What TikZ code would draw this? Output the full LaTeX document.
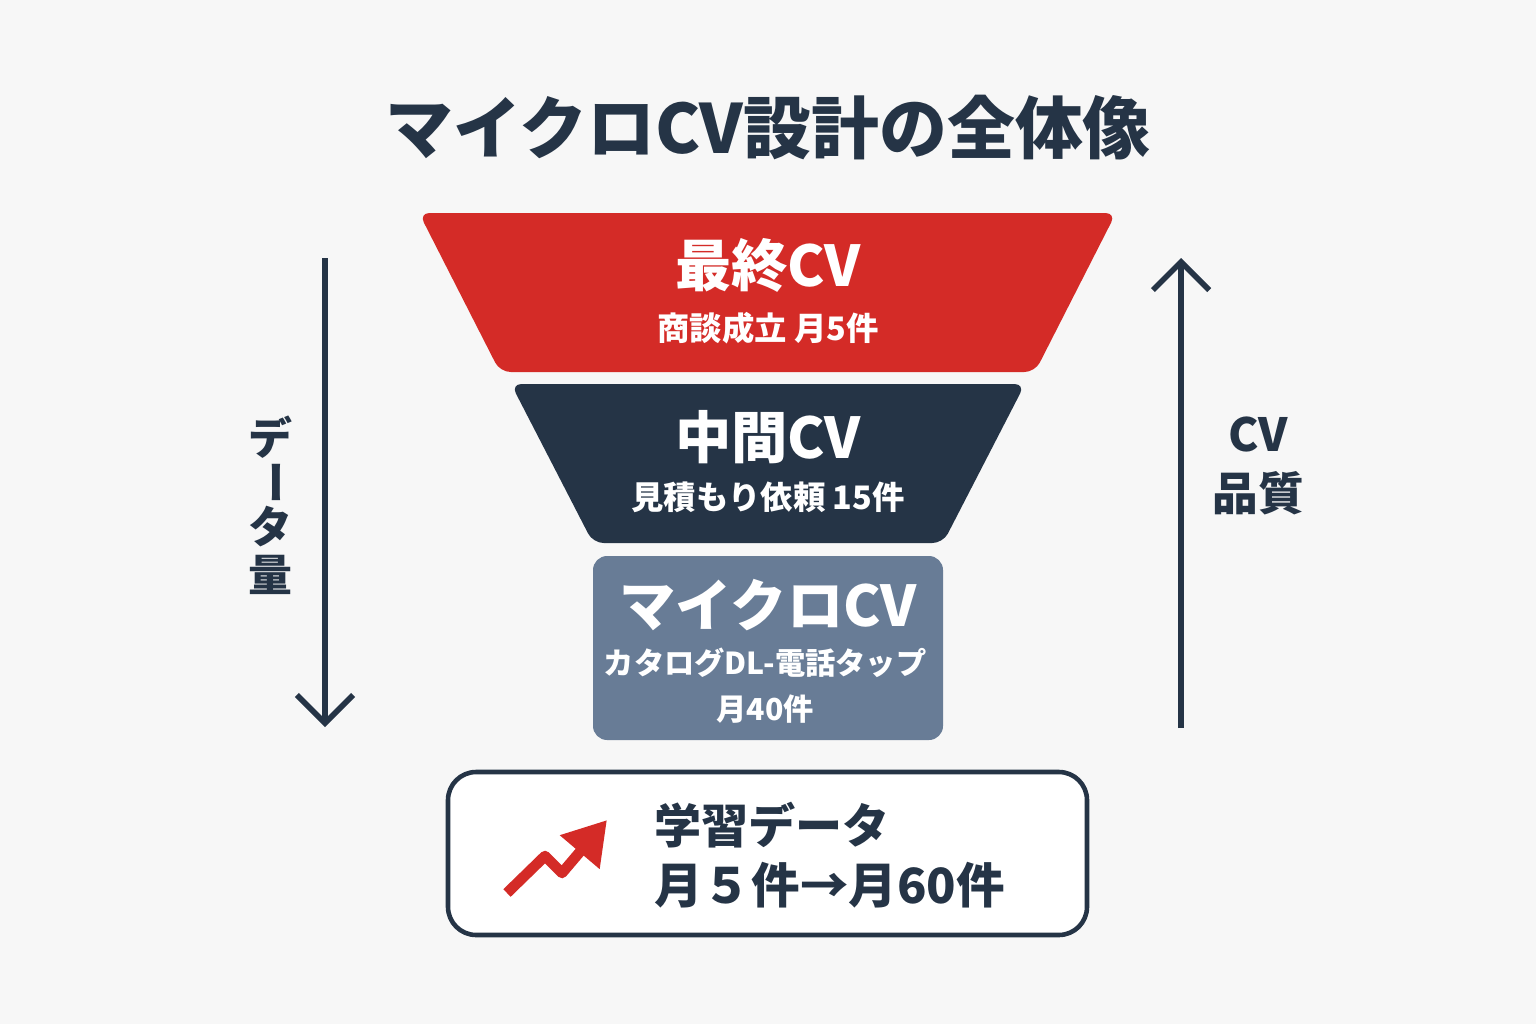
\documentclass[tikz,border=0pt]{standalone}
\usepackage{fontspec}
\newfontfamily\cjk{Noto Sans CJK JP}
\usetikzlibrary{arrows.meta}
\definecolor{FunnelRed}{HTML}{D42B27}
\definecolor{FunnelNavy}{HTML}{253446}
\definecolor{FunnelSlate}{HTML}{687C96}
\definecolor{PageBack}{HTML}{F7F7F7}
\begin{document}
\begin{tikzpicture}[x=0.01cm,y=-0.01cm,font=\cjk\bfseries]

		\tikzset{
			stageTitle/.style={text=white,font=\cjk\bfseries\fontsize{16}{18}\selectfont},
			stageNote/.style={text=white,font=\cjk\bfseries\fontsize{9.2}{13}\selectfont,align=center},
			sideLabel/.style={text=FunnelNavy,font=\cjk\bfseries\fontsize{12.5}{16}\selectfont,align=center,inner sep=0pt},
			flowArrow/.style={draw=FunnelNavy,line width=1.6pt,-{Straight Barb[length=8pt,width=16pt,line width=1.6pt]}},
		}

		% Background
		\fill[PageBack] (0,0) rectangle (1536,1024);
		\useasboundingbox (0,0) rectangle (1536,1024);

		% Title
		\node[text=FunnelNavy,font=\cjk\bfseries\fontsize{19.3}{23}\selectfont] (title) at (768,128) {マイクロCV設計の全体像};

		% Funnel
		\fill[FunnelRed,rounded corners=3pt] (419,213) -- (1116,213) -- (1035,372) -- (500,372) -- cycle;
		\node[stageTitle] (finalCV) at (768,265) {最終CV};
		\node[stageNote] (finalNote) at (768,328) {商談成立\ 月5件};

		\fill[FunnelNavy,rounded corners=3pt] (511,384) -- (1025,384) -- (943,543) -- (593,543) -- cycle;
		\node[stageTitle] (midCV) at (768,437) {中間CV};
		\node[stageNote] (midNote) at (768,497) {見積もり依頼 15件};

		\fill[FunnelSlate,rounded corners=4pt] (593,556) rectangle (943,740);
		\node[stageTitle] (microCV) at (768,605) {マイクロCV};
		\node[stageNote,font=\cjk\bfseries\fontsize{8.6}{13}\selectfont] (microNote) at (765,686) {カタログDL-電話タップ\\月40件};

		% Side arrows
		\coordinate (volTop) at (325,258);
		\coordinate (volEnd) at (325,727);
		\draw[flowArrow] (volTop) -- (volEnd);
		\node[sideLabel] (volDe) at (270,437) {デ};
		\node[sideLabel,rotate=-90] (volBar) at (270,482) {ー};
		\node[sideLabel] (volTa) at (270,527) {タ};
		\node[sideLabel] (volAmt) at (270,575) {量};

		\coordinate (qualBase) at (1181,728);
		\coordinate (qualTop) at (1181,258);
		\draw[flowArrow] (qualBase) -- (qualTop);
		\node[sideLabel,font=\cjk\bfseries\fontsize{13}{17}\selectfont] (quality) at (1258,466) {CV\\品質};

		% Learning data box
		\draw[FunnelNavy,fill=white,line width=1.3pt,rounded corners=8pt] (448,772) rectangle (1087,935);
		\draw[FunnelRed,line width=3pt,line join=round,-{Triangle[length=12pt,width=14pt]}]
			(507,893) -- (545,856) -- (562,873) -- (607,820);
		\node[anchor=west,text=FunnelNavy,font=\cjk\bfseries\fontsize{13.4}{16}\selectfont] (learn) at (642,825) {学習データ};
		\node[anchor=west,text=FunnelNavy,font=\cjk\bfseries\fontsize{13.8}{17}\selectfont] (growth) at (642,885) {月５件→月60件};

\end{tikzpicture}
\end{document}
